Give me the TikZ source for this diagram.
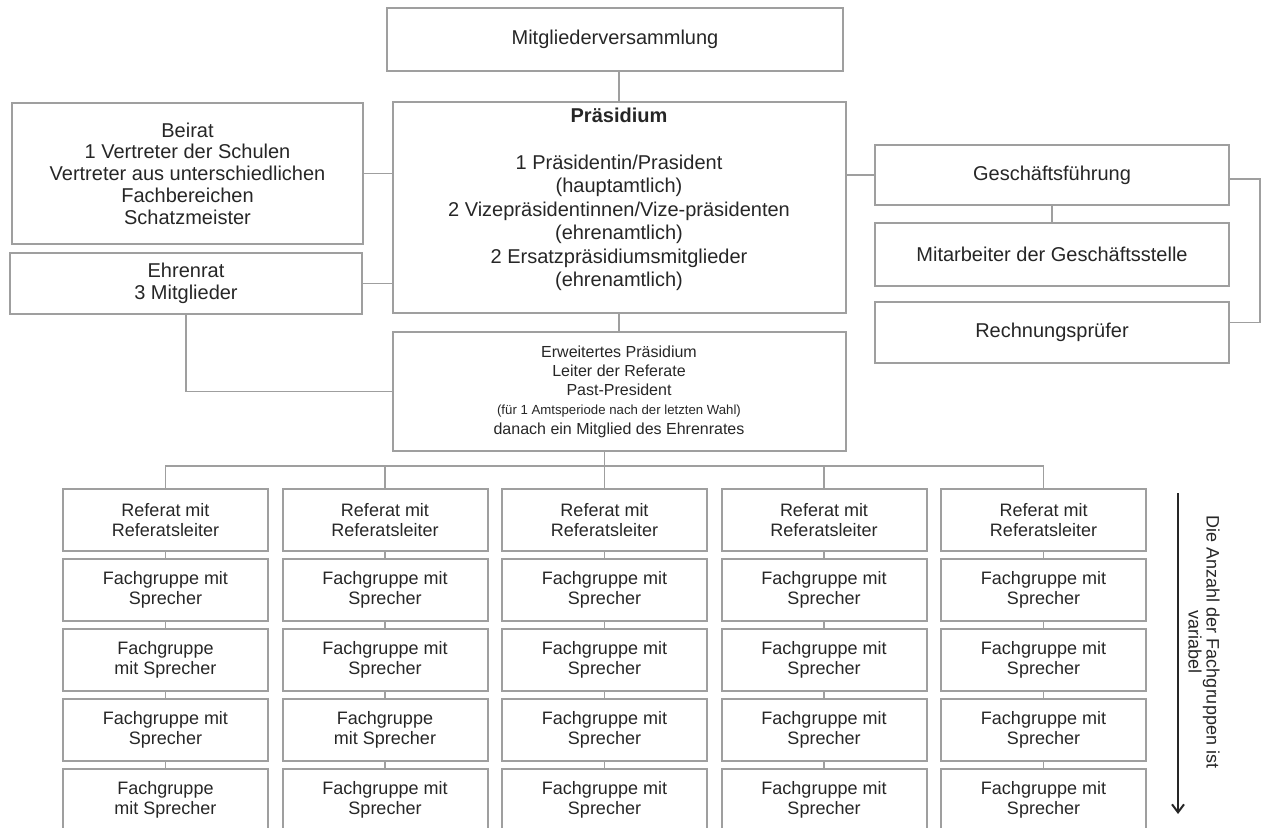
\documentclass[tikz,border=0pt]{standalone}
\usepackage{fontspec}
\setmainfont{Liberation Sans}
\usetikzlibrary{positioning, arrows.meta}

\newcommand{\fgA}{Fachgruppe mit\\Sprecher}
\newcommand{\fgB}{Fachgruppe\\mit Sprecher}

\begin{document}
\begin{tikzpicture}[x=0.5pt, y=-0.5pt,
        box/.style={rectangle, draw=gray!75, line width=1pt, align=center, inner sep=0pt, text=black!85, font=\fontsize{10}{10.9}\selectfont},
        fgbox/.style={box, minimum width=102.5pt, minimum height=31pt, font=\fontsize{9}{10}\selectfont},
        con/.style={draw=gray!75, line width=0.8pt}]
    \useasboundingbox (0,0) rectangle (1262,827);
    \clip (0,0) rectangle (1262,827);

    % oberste Ebene
    \node[box, minimum width=228pt, minimum height=31.5pt] (mv) at (615,39.5) {Mitgliederversammlung};
    \node[box, minimum width=226.5pt, minimum height=105.5pt] (praes) at (619,207.5) {};
    \node[align=center, text=black!85, font=\fontsize{10}{11.75}\selectfont] (praestext) at (619,199.5) {\textbf{Präsidium}\\[11.75pt]1 Präsidentin/Prasident\\(hauptamtlich)\\2 Vizepräsidentinnen/Vize-präsidenten\\(ehrenamtlich)\\2 Ersatzpräsidiumsmitglieder\\(ehrenamtlich)};
    \node[box, minimum width=175.5pt, minimum height=70.5pt] (beirat) at (187.5,173.5) {Beirat\\1 Vertreter der Schulen\\Vertreter aus unterschiedlichen\\Fachbereichen\\Schatzmeister};
    \node[box, minimum width=176pt, minimum height=30.5pt] (ehrenrat) at (186,283.5) {Ehrenrat\\3 Mitglieder};
    \node[box, minimum width=177pt, minimum height=30pt] (gf) at (1052,175) {Geschäftsführung};
    \node[box, minimum width=177pt, minimum height=31.5pt] (ma) at (1052,254.5) {Mitarbeiter der Geschäftsstelle};
    \node[box, minimum width=177pt, minimum height=30.5pt] (rp) at (1052,332.5) {Rechnungsprüfer};
    \node[box, minimum width=226.5pt, minimum height=59.5pt, font=\fontsize{8}{9.6}\selectfont] (erw) at (619,391.5) {Erweitertes Präsidium\\Leiter der Referate\\Past-President\\{\fontsize{6.6}{8.2}\selectfont (für 1 Amtsperiode nach der letzten Wahl)}\\danach ein Mitglied des Ehrenrates};

    \draw[con] (praes.north) -- (praes.north |- mv.south);
    \draw[con] (beirat.east) -- (beirat.east -| praes.west);
    \draw[con] (ehrenrat.east) -- (ehrenrat.east -| praes.west);
    \draw[con] (gf.west) -- (gf.west -| praes.east);
    \draw[con] (gf) -- (ma);
    \draw[con] ([yshift=-2pt]gf.east) -- ++(15pt,0) |- ([yshift=5pt]rp.east);
    \draw[con] (praes) -- (erw);
    \draw[con] (ehrenrat.south) |- (erw.west);

    % Referate und Fachgruppen
    \foreach \c/\x/\la/\lb/\lc/\ld in {1/165.5/\fgA/\fgB/\fgA/\fgB, 2/385/\fgA/\fgA/\fgB/\fgA, 3/604.5/\fgA/\fgA/\fgA/\fgA, 4/824/\fgA/\fgA/\fgA/\fgA, 5/1043.5/\fgA/\fgA/\fgA/\fgA} {
        \node[fgbox] (ref\c) at (\x,520) {Referat mit\\Referatsleiter};
        \node[fgbox] (fg\c-2) at (\x,590) {\la};
        \node[fgbox] (fg\c-3) at (\x,660) {\lb};
        \node[fgbox] (fg\c-4) at (\x,730) {\lc};
        \node[fgbox] (fg\c-5) at (\x,800) {\ld};
        \draw[con] (ref\c) -- (fg\c-2);
        \draw[con] (fg\c-2) -- (fg\c-3);
        \draw[con] (fg\c-3) -- (fg\c-4);
        \draw[con] (fg\c-4) -- (fg\c-5);
    }

    \coordinate (bus) at (0,466);
    \draw[con] (erw.south -| ref3.north) -- (ref3.north);
    \draw[con] (ref1.north) |- (bus -| ref5.north) -- (ref5.north);
    \draw[con] (ref2.north) -- (ref2.north |- bus);
    \draw[con] (ref4.north) -- (ref4.north |- bus);

    % Hinweis rechts
    \coordinate (pfeiloben) at (1178,493);
    \coordinate (pfeilunten) at (1178,814);
    \draw[-{Straight Barb[length=4pt, width=6pt]}, line width=1pt, black!85] (pfeiloben) -- (pfeilunten);
    \node[rotate=-90, align=center, text=black!85, font=\fontsize{9}{9}\selectfont] (anzahl) at (1204,642) {Die Anzahl der Fachgruppen ist\\variabel};
\end{tikzpicture}
\end{document}
